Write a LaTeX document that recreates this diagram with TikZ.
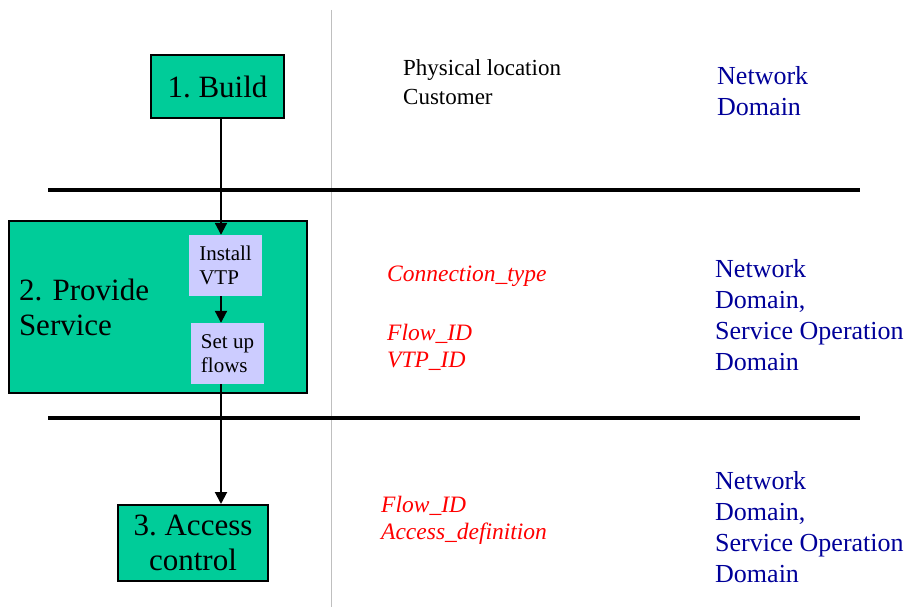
\documentclass[tikz,border=0pt]{standalone}
\usepackage{fontspec}
\setmainfont{Liberation Serif}
\frenchspacing
\usetikzlibrary{arrows.meta,positioning}
\definecolor{stagegreen}{HTML}{00CC99}
\definecolor{tasklilac}{HTML}{CCCCFF}
\definecolor{domainblue}{HTML}{000099}
\tikzset{
  stage/.style={
    rectangle, draw, line width=2pt, fill=stagegreen,
    align=center, inner sep=0pt, font=\fontsize{31}{35}\selectfont
  },
  subtask/.style={
    rectangle, fill=tasklilac, align=left, inner sep=0pt,
    minimum width=73pt, minimum height=61pt,
    font=\fontsize{21}{24}\selectfont
  },
  arrow/.style={-{Triangle[width=12pt,length=12pt]}, line width=2pt},
  band/.style={line width=3.5pt},
  divider/.style={line width=1pt, black!25},
  % notes are placed at the baseline of their last line
  note/.style={anchor=base west, align=left, inner sep=0pt,
    font=\fontsize{23}{29}\selectfont},
  domaintext/.style={note, text=domainblue, font=\fontsize{26}{31}\selectfont},
  param/.style={note, text=red, font=\fontsize{23.5}{27}\selectfont\itshape},
}
\begin{document}
\begin{tikzpicture}[x=1pt, y=-1pt]
  \useasboundingbox (0,0) rectangle (907,607);

  % Column divider
  \draw[divider] (331,10) -- (331,607);

  % Stages
  \node[stage, minimum width=133pt, minimum height=63pt] (build) at (217.5,86.5)
    {1. Build};
  \node[stage, minimum width=298pt, minimum height=172pt,
        text width=278pt, align=left] (provide) at (158,307)
    {2. Provide\\Service};
  \node[stage, minimum width=150pt, minimum height=76pt] (access) at (193,543)
    {3. Access\\control};

  % Steps inside stage 2
  \node[subtask] (install) at (225.5,265.5) {Install\\VTP};
  \node[subtask] (setup) at (227.5,353.5) {Set up\\flows};

  % Band separators
  \draw[band] (48,190) -- (860,190);
  \draw[band] (48,418) -- (860,418);

  % Arrows
  \coordinate (spine) at (221,0);
  \draw[arrow] (spine |- build.south) -- (spine |- install.north);
  \draw[arrow] (spine |- install.south) -- (spine |- setup.north);
  \draw[arrow] (spine |- setup.south) -- (spine |- access.north);

  % Band 1 texts
  \node[note] (buildinfo) at (403,105) {Physical location\\Customer};
  \node[domaintext] (builddom) at (717,116) {Network\\Domain};

  % Band 2 texts
  \node[param] (conntype) at (387,281) {Connection\_type};
  \node[param] (provideids) at (387,367) {Flow\_ID\\VTP\_ID};
  \node[domaintext] (providedom) at (715,370)
    {Network\\Domain,\\Service Operation\\Domain};

  % Band 3 texts
  \node[param] (accessids) at (381,539) {Flow\_ID\\Access\_definition};
  \node[domaintext] (accessdom) at (715,582)
    {Network\\Domain,\\Service Operation\\Domain};
\end{tikzpicture}
\end{document}
